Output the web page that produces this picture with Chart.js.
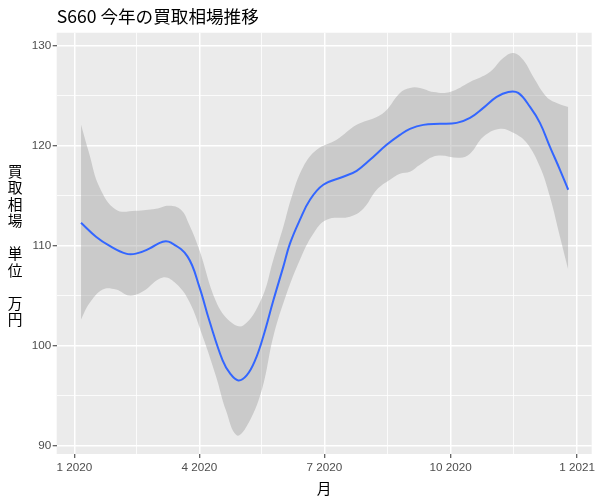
<!DOCTYPE html>
<html>
<head>
<meta charset="utf-8">
<script src="https://cdn.jsdelivr.net/npm/chart.js@4.4.0/dist/chart.umd.min.js"></script>
<style>
  html, body { margin: 0; padding: 0; background: #fff; }
  #wrap { width: 600px; height: 500px; }
</style>
</head>
<body>
<div id="wrap"><canvas id="chart"></canvas></div>
<script>
// x = 2020年1月1日からの日数
const smoothDays = [4.9, 15.8, 25.5, 37.6, 44.9, 54.6, 64.4, 70.4, 82.5, 91, 98.3, 108, 113.4, 119.4, 125.5, 131.6, 137.6, 144.9, 152.2, 157.0, 164.3, 171.6, 181.3, 195.8, 205.6, 215.3, 227.4, 237.1, 244.4, 254.1, 266.2, 278.4, 288.1, 297.8, 307.5, 316, 323.2, 331.8, 339, 346.3, 353.6, 359.6];
const smoothValues = [112.3, 110.9, 110.0, 109.2, 109.2, 109.7, 110.4, 110.3, 108.9, 105.9, 102.5, 98.5, 97.2, 96.5, 97.0, 98.5, 100.9, 104.5, 107.9, 110.2, 112.6, 114.6, 116.1, 116.9, 117.5, 118.6, 120.1, 121.1, 121.7, 122.1, 122.2, 122.3, 122.8, 123.8, 124.9, 125.4, 125.3, 123.9, 122.3, 119.9, 117.6, 115.6];

// 信頼区間 上側
const upperDays = [4.9, 10.9, 18.2, 30.4, 44.9, 59.5, 69.2, 77.7, 83.7, 91, 103.2, 113.4, 123, 136.4, 144.9, 152.2, 158.3, 166.7, 176.5, 191, 205.6, 220.2, 227.4, 237.1, 244.4, 251.7, 261.4, 273.5, 288.1, 302.6, 312.3, 319.6, 326.9, 334.2, 343.9, 351.2, 359.6];
const upperValues = [122.1, 119.2, 115.9, 113.6, 113.5, 113.7, 114.0, 113.6, 112.1, 109.6, 104.4, 102.4, 102.0, 104.7, 108.6, 111.9, 114.9, 117.9, 119.6, 120.6, 122.1, 122.9, 123.6, 125.3, 125.8, 125.8, 125.4, 125.4, 126.4, 127.4, 128.8, 129.3, 128.6, 126.9, 124.9, 124.3, 123.9];

// 信頼区間 下側
const lowerDays = [4.9, 10.9, 20.7, 30.4, 40.0, 49.8, 64.4, 74, 83.7, 93.5, 103.2, 110.4, 118.2, 125.5, 136.4, 144.9, 154.6, 164.3, 174, 183.7, 200.7, 210.4, 220.2, 229.8, 237.1, 244.4, 251.7, 263.8, 280.8, 288.1, 297.8, 309.9, 319.6, 329.3, 339, 346.3, 353.6, 359.6];
const lowerValues = [102.6, 104.2, 105.6, 105.6, 105.0, 105.4, 106.8, 106.2, 104.4, 100.9, 96.9, 93.5, 91.0, 91.9, 95.5, 100.9, 105.2, 108.6, 111.2, 112.6, 112.9, 113.7, 115.6, 116.6, 117.2, 117.4, 118.1, 119.0, 118.8, 119.2, 120.9, 121.7, 121.3, 120.3, 117.9, 114.9, 110.9, 107.6];

// 目盛り
const xTickDays = [0, 91, 182, 274, 366];
const xTickLabels = ['1 2020', '4 2020', '7 2020', '10 2020', '1 2021'];
const xMinorDays = [45.5, 136.5, 228, 320];
const yTickValues = [90, 100, 110, 120, 130];
const yMinorValues = [95, 105, 115, 125];

const chartTitle = 'S660 今年の買取相場推移';
const xTitle = '月';
const yTitleChars = ['買', '取', '相', '場', '', '単', '位', '', '万', '円'];

const toPoints = (xs, ys) => xs.map((x, i) => ({ x: x, y: ys[i] }));

const tickFont = { family: '"Liberation Sans", Arial, sans-serif', size: 11.7 };
const jpFont = '"Noto Sans CJK JP", sans-serif';

// パネル背景と縦書きの軸タイトル
const panelPlugin = {
    id: 'panel',
    afterLayout(chart) {
        if (chart.titleBlock) {
            chart.titleBlock.left = chart.chartArea.left;
        }
    },
    beforeDraw(chart) {
        const { ctx, chartArea: a } = chart;
        ctx.save();
        ctx.fillStyle = '#EBEBEB';
        ctx.fillRect(a.left, a.top, a.right - a.left, a.bottom - a.top);
        ctx.restore();
    },
    afterDraw(chart) {
        const { ctx, chartArea: a } = chart;
        const lineH = 16.5;
        const mid = (a.top + a.bottom) / 2 + 2;
        const start = mid - (yTitleChars.length - 1) * lineH / 2;
        ctx.save();
        ctx.font = '14.7px ' + jpFont;
        ctx.fillStyle = '#000';
        ctx.textAlign = 'center';
        ctx.textBaseline = 'middle';
        yTitleChars.forEach((ch, i) => {
            if (ch) ctx.fillText(ch, 15, start + i * lineH);
        });
        ctx.restore();
    }
};

const isMajorX = (c) => c.tick && xTickDays.includes(c.tick.value);
const isMajorY = (c) => c.tick && yTickValues.includes(c.tick.value);

new Chart(document.getElementById('chart').getContext('2d'), {
    type: 'line',
    data: {
        datasets: [{
            label: 'smooth',
            data: toPoints(smoothDays, smoothValues),
            borderColor: '#3366FF',
            borderWidth: 2,
            pointRadius: 0,
            fill: false,
            tension: 0.4
        }, {
            label: 'upper',
            data: toPoints(upperDays, upperValues),
            borderWidth: 0,
            borderColor: 'rgba(0,0,0,0)',
            backgroundColor: 'rgba(153,153,153,0.4)',
            pointRadius: 0,
            fill: '+1',
            tension: 0.4
        }, {
            label: 'lower',
            data: toPoints(lowerDays, lowerValues),
            borderWidth: 0,
            borderColor: 'rgba(0,0,0,0)',
            pointRadius: 0,
            fill: false,
            tension: 0.4
        }]
    },
    options: {
        responsive: true,
        maintainAspectRatio: false,
        animation: false,
        layout: { padding: { top: 0, right: 8.3, bottom: 0, left: 0 } },
        plugins: {
            legend: { display: false },
            tooltip: { enabled: false },
            title: {
                display: true,
                text: chartTitle,
                align: 'start',
                color: '#000',
                font: { family: jpFont, size: 17.6, weight: 'normal' },
                padding: { top: 6, bottom: 5.6 }
            }
        },
        scales: {
            x: {
                type: 'linear',
                min: -12.8,
                max: 376.7,
                afterBuildTicks: (s) => {
                    s.ticks = xTickDays.concat(xMinorDays).sort((a, b) => a - b).map(v => ({ value: v }));
                },
                afterFit: (s) => { s.height = 46; },
                ticks: {
                    autoSkip: false,
                    maxRotation: 0,
                    padding: 3,
                    color: '#4D4D4D',
                    font: tickFont,
                    callback: (v) => {
                        const i = xTickDays.indexOf(v);
                        return i >= 0 ? xTickLabels[i] : '';
                    }
                },
                grid: {
                    color: '#FFFFFF',
                    lineWidth: (c) => isMajorX(c) ? 1.5 : 0.8,
                    tickLength: 4,
                    tickWidth: 1,
                    tickColor: (c) => isMajorX(c) ? '#333333' : 'rgba(0,0,0,0)'
                },
                border: { display: false },
                title: {
                    display: true,
                    text: xTitle,
                    color: '#000',
                    font: { family: jpFont, size: 14.7 },
                    padding: { top: 2, bottom: 3 }
                }
            },
            y: {
                min: 89.13,
                max: 131.33,
                afterBuildTicks: (s) => {
                    s.ticks = yTickValues.concat(yMinorValues).sort((a, b) => a - b).map(v => ({ value: v }));
                },
                afterFit: (s) => { s.width = 56.7; },
                ticks: {
                    autoSkip: false,
                    padding: 1.5,
                    color: '#4D4D4D',
                    font: tickFont,
                    callback: (v) => yTickValues.includes(v) ? String(v) : ''
                },
                grid: {
                    color: '#FFFFFF',
                    lineWidth: (c) => isMajorY(c) ? 1.5 : 0.8,
                    tickLength: 4,
                    tickWidth: 1,
                    tickColor: (c) => isMajorY(c) ? '#333333' : 'rgba(0,0,0,0)'
                },
                border: { display: false }
            }
        }
    },
    plugins: [panelPlugin]
});
</script>
</body>
</html>
